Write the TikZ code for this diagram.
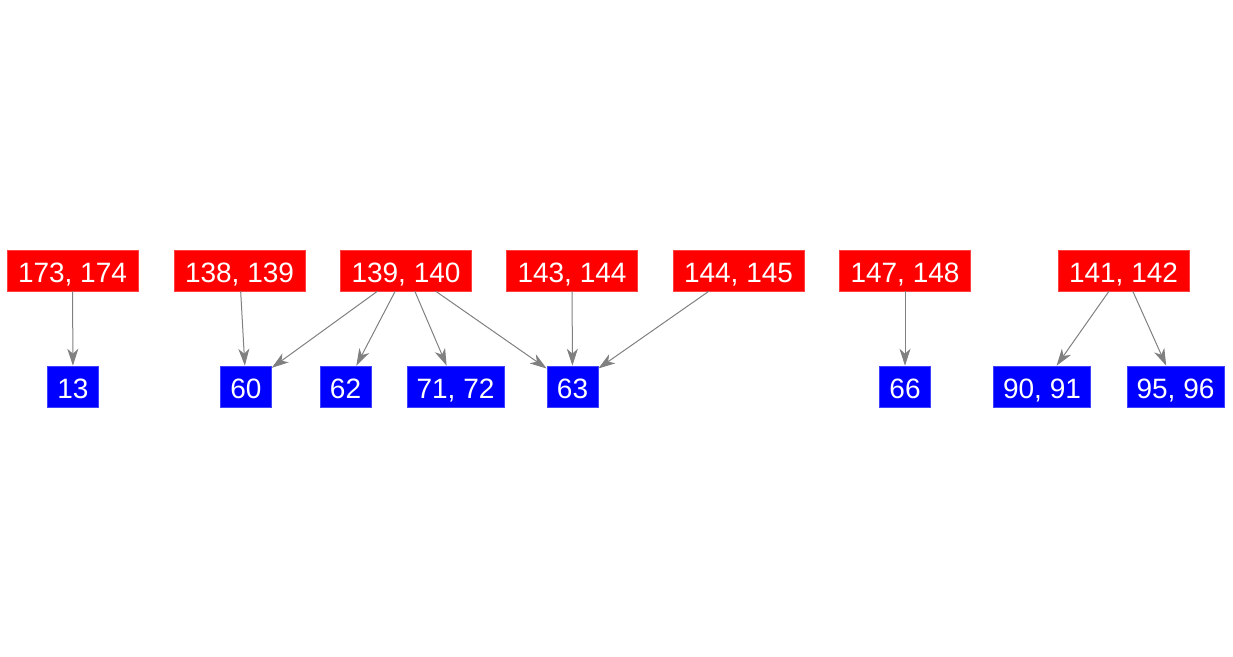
\documentclass[tikz,border=0pt]{standalone}
\usepackage{fontspec}
\setmainfont{Liberation Sans}
\usetikzlibrary{arrows.meta}
\begin{document}
\begin{tikzpicture}[x=1pt,y=-1pt,
  boxbase/.style={text=white, minimum height=41pt, inner sep=0pt, text height=23pt, text depth=0pt, line width=0.6pt, font=\fontsize{28}{30}\selectfont},
  rnode/.style={boxbase, fill=red, draw=red!75!white, minimum width=131pt},
  bnode/.style={boxbase, fill=blue, draw=blue!75!white, minimum width=51pt},
  bwide/.style={bnode, minimum width=97pt},
  edgeline/.style={draw=gray, line width=1pt, -{Stealth[length=17pt,width=11pt,inset=5pt]}}]
\useasboundingbox (0,0) rectangle (1233,656);
% red nodes
\node[rnode] (r1) at (72.5,270.5) {173, 174};
\node[rnode] (r2) at (239.5,270.5) {138, 139};
\node[rnode] (r3) at (406,270.5) {139, 140};
\node[rnode] (r4) at (572,270.5) {143, 144};
\node[rnode] (r5) at (738.5,270.5) {144, 145};
\node[rnode] (r6) at (905,270.5) {147, 148};
\node[rnode] (r7) at (1123.5,270.5) {141, 142};
% blue nodes
\node[bnode] (b13) at (73,386.5) {13};
\node[bnode] (b60) at (246,386.5) {60};
\node[bnode] (b62) at (345.5,386.5) {62};
\node[bwide] (b71) at (455.5,386.5) {71, 72};
\node[bnode] (b63) at (572.5,386.5) {63};
\node[bnode] (b66) at (905,386.5) {66};
\node[bwide] (b90) at (1042,386.5) {90, 91};
\node[bwide] (b95) at (1175.5,386.5) {95, 96};
% edges
\draw[edgeline] (r1) -- (b13);
\draw[edgeline] (r2) -- (b60);
\draw[edgeline] (r3) -- (b60);
\draw[edgeline] (r3) -- (b62);
\draw[edgeline] (r3) -- (b71);
\draw[edgeline] (r3) -- (b63);
\draw[edgeline] (r4) -- (b63);
\draw[edgeline] (r5) -- (b63);
\draw[edgeline] (r6) -- (b66);
\draw[edgeline] (r7) -- (b90);
\draw[edgeline] (r7) -- (b95);
\end{tikzpicture}
\end{document}
